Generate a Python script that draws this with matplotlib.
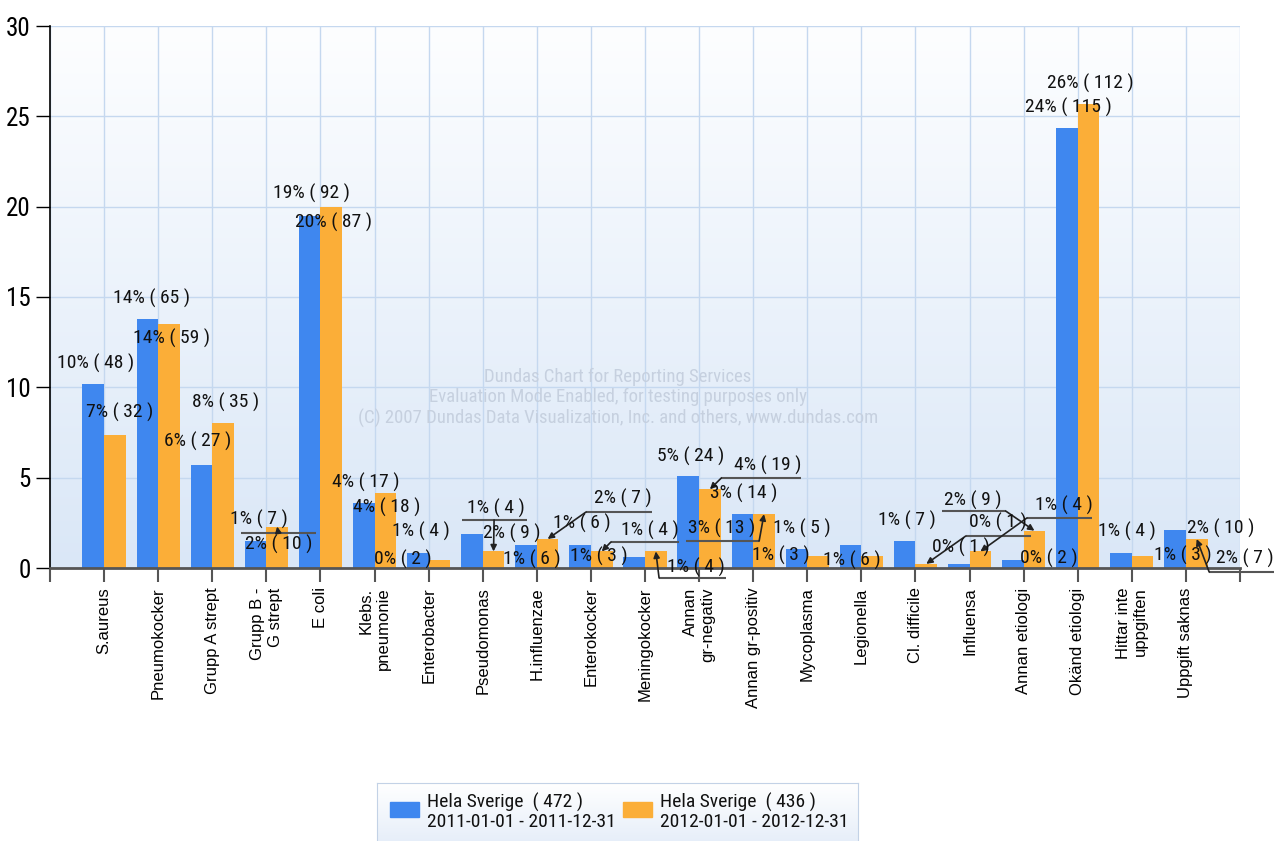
import os
import numpy as np
import matplotlib
matplotlib.use("Agg")
import matplotlib.pyplot as plt
from matplotlib import font_manager as fm
from matplotlib.font_manager import FontProperties
from matplotlib.colors import LinearSegmentedColormap
from matplotlib.patches import Rectangle

# ---------------------------------------------------------------- data
categories = [
    "S.aureus", "Pneumokocker", "Grupp A strept", "Grupp B -\nG strept", "E coli",
    "Klebs.\npneumonie", "Enterobacter", "Pseudomonas", "H.influenzae", "Enterokocker",
    "Meningokocker", "Annan\ngr-negativ", "Annan gr-positiv", "Mycoplasma", "Legionella",
    "Cl. difficile", "Influensa", "Annan etiologi", "Okänd etiologi",
    "Hittar inte\nuppgiften", "Uppgift saknas",
]
series_names = ["Hela Sverige", "Hela Sverige"]
periods = ["2011-01-01 - 2011-12-31", "2012-01-01 - 2012-12-31"]
counts_2011 = [48, 65, 27, 7, 92, 17, 4, 9, 6, 6, 3, 24, 14, 5, 6, 7, 1, 2, 115, 4, 10]
counts_2012 = [32, 59, 35, 10, 87, 18, 2, 4, 7, 4, 4, 19, 13, 3, 3, 1, 4, 9, 112, 3, 7]
y_ticks = [0, 5, 10, 15, 20, 25, 30]

# ---------------------------------------------------------------- label layout (data units)
label_pos_2011 = [
    (-0.15, 11.3), (0.87, 14.9), (1.72, 7.0), (2.87, 2.7), (3.84, 20.75),
    (4.83, 4.75), (5.86, 2.0), (7.54, 1.94), (7.9, 0.45), (8.84, 2.49),
    (9.15, 0.66), (10.85, 6.2), (11.83, 4.15), (12.9, 2.2), (13.83, 0.44),
    (14.85, 2.66), (15.84, 1.16), (17.47, 0.55), (17.82, 25.5), (18.9, 2.0),
    (20.64, 2.2),
]
label_pos_2012 = [
    (0.28, 8.6), (1.24, 12.73), (2.24, 9.19), (3.23, 1.33), (4.25, 19.15),
    (5.23, 3.38), (5.53, 0.45), (7.25, 3.32), (9.59, 3.87), (10.09, 2.1),
    (10.94, 0.06), (12.26, 5.7), (11.42, 2.2), (12.51, 0.72), None,
    (16.53, 2.5), (17.75, 3.49), (16.06, 3.76), (18.23, 26.84), (19.94, 0.72),
    (21.09, 0.55),
]
# callout: underline (x0, x1, y) and start point of the pointer line
callouts_2012 = {
    3: ((2.53, 3.92, 1.94), (3.22, 1.94)),
    7: ((6.62, 7.82, 2.66), (7.21, 2.66)),
    8: ((8.91, 10.13, 3.10), (8.91, 3.10)),
    9: ((9.37, 10.63, 1.44), (9.37, 1.44)),
    10: ((10.26, 11.50, -0.55), (10.26, -0.55)),
    11: ((11.41, 12.88, 4.98), (11.41, 4.98)),
    12: ((10.76, 12.11, 1.49), (12.11, 1.49)),
    15: ((15.93, 17.13, 1.77), (15.93, 1.77)),
    16: ((17.06, 18.26, 2.77), (17.06, 2.77)),
    17: ((15.49, 16.67, 3.15), (16.67, 3.15)),
    20: ((20.43, 21.63, -0.22), (20.43, -0.22)),
}


# ---------------------------------------------------------------- fonts
def find_font_file(keys):
    files = [f.fname for f in fm.fontManager.ttflist]
    try:
        files += list(fm.findSystemFonts())
    except Exception:
        pass
    for key in keys:
        for fn in files:
            if key in os.path.basename(fn).lower().replace(" ", ""):
                return fn
    return None


narrow_file = find_font_file([
    "liberationsansnarrow-regular", "arialn.", "robotocondensed-regular",
    "roboto_condensed-regular", "opensans_condensed-regular",
    "opensanscondensed-regular", "notosans-condensed.", "notosans_condensed-regular",
    "dejavusanscondensed.",
])
regular_file = find_font_file(["liberationsans-regular"])
NARROW_SCALE = 1.0 if narrow_file else 0.84


def narrow(size):
    if narrow_file:
        return FontProperties(fname=narrow_file, size=size)
    if regular_file:
        return FontProperties(fname=regular_file, size=size * NARROW_SCALE)
    return FontProperties(family="DejaVu Sans", size=size * 0.8)


def regular(size):
    if regular_file:
        return FontProperties(fname=regular_file, size=size)
    return FontProperties(family="DejaVu Sans", size=size * 0.92)


# ---------------------------------------------------------------- styling
BLUE = "#3f87ef"
ORANGE = "#fbae38"
W, H = 1277, 841

counts = [counts_2011, counts_2012]
totals = [sum(c) for c in counts]
percents = [np.array(c) / t * 100 for c, t in zip(counts, totals)]

fig = plt.figure(figsize=(W / 100, H / 100), dpi=100)
fig.patch.set_facecolor("white")
ax = fig.add_axes([50 / W, 273 / H, 1190 / W, 542 / H])

# plot area gradient
bg = LinearSegmentedColormap.from_list("bg", ["#dae7f7", "#fdfeff"])
grad = np.linspace(0, 1, 256).reshape(-1, 1)
ax.imshow(grad, extent=(-1, 21, 0, 30), aspect="auto", origin="lower",
          cmap=bg, zorder=0, interpolation="bilinear")

x = np.arange(len(categories))
bw = 0.4
offsets = [-bw / 2, bw / 2]
colors = [BLUE, ORANGE]
for s in range(2):
    ax.bar(x + offsets[s], percents[s], bw, color=colors[s], zorder=2, linewidth=0)

# value labels
positions = [label_pos_2011, label_pos_2012]
for s in range(2):
    for i, (n, v, pos) in enumerate(zip(counts[s], percents[s], positions[s])):
        if pos is None:
            continue
        ax.text(pos[0], pos[1], f"{v:.0f}% ( {n} )", ha="center", va="center",
                fontproperties=narrow(14), color="#111111", zorder=6, clip_on=False)

for i, ((x0, x1, yl), (sx, sy)) in callouts_2012.items():
    ax.plot([x0, x1], [yl, yl], color="#555555", lw=1.5, zorder=5,
            clip_on=False, solid_capstyle="butt")
    ax.annotate("", xy=(i + offsets[1], percents[1][i]), xytext=(sx, sy),
                arrowprops=dict(arrowstyle="-|>", color="#222222", lw=1.2,
                                mutation_scale=9, shrinkA=0, shrinkB=0),
                zorder=5, annotation_clip=False)

# axes
ax.set_xlim(-1, 21)
ax.set_ylim(0, 30)
ax.set_xticks(np.arange(-1, 22))
ax.set_xticklabels([""] + categories + [""])
ax.set_yticks(y_ticks)
ax.grid(True, color="#c5d8ef", lw=1)
ax.set_axisbelow(True)
for side in ("top", "right"):
    ax.spines[side].set_visible(False)
ax.spines["left"].set_color("black")
ax.spines["left"].set_linewidth(1.2)
ax.spines["bottom"].set_color("#555555")
ax.spines["bottom"].set_linewidth(2)
ax.spines["bottom"].set_zorder(4)

ax.tick_params(axis="y", length=10, width=1, color="black", pad=4)
for lab in ax.get_yticklabels():
    lab.set_fontproperties(narrow(18))
ax.tick_params(axis="x", length=10, width=1.5, color="#555555", pad=4)
for lab in ax.get_xticklabels():
    lab.set_fontproperties(regular(12))
    lab.set_rotation(90)
    lab.set_multialignment("right")
    lab.set_va("top")
    lab.set_ha("center")

# watermark
fig.text(618 / W, 1 - 398 / H,
         "Dundas Chart for Reporting Services\n"
         "Evaluation Mode Enabled, for testing purposes only\n"
         "(C) 2007 Dundas Data Visualization, Inc. and others, www.dundas.com",
         ha="center", va="center", fontproperties=narrow(13.5),
         color="#c6d0df", linespacing=1.15, zorder=1)

# legend box
lax = fig.add_axes([377 / W, -2 / H, 481 / W, 60 / H])
lax.set_xlim(0, 481)
lax.set_ylim(60, 0)
lg = LinearSegmentedColormap.from_list("lg", ["#ffffff", "#e6eef9"])
lax.imshow(np.linspace(0, 1, 64).reshape(-1, 1), extent=(0, 481, 60, 0),
           aspect="auto", cmap=lg, zorder=0)
lax.set_xticks([])
lax.set_yticks([])
for side in ("top", "left", "right"):
    lax.spines[side].set_color("#c3d2e6")
lax.spines["bottom"].set_visible(False)
entry_x = [(13, 50), (246, 283)]
for s in range(2):
    px, tx = entry_x[s]
    lax.add_patch(Rectangle((px, 19), 29, 15, color=colors[s], zorder=2))
    lax.text(tx, 29, f"{series_names[s]}  ( {totals[s]} )\n{periods[s]}",
             ha="left", va="center", fontproperties=narrow(14),
             color="#111111", linespacing=1.1, zorder=3)

fig.savefig("out.png", dpi=100)
